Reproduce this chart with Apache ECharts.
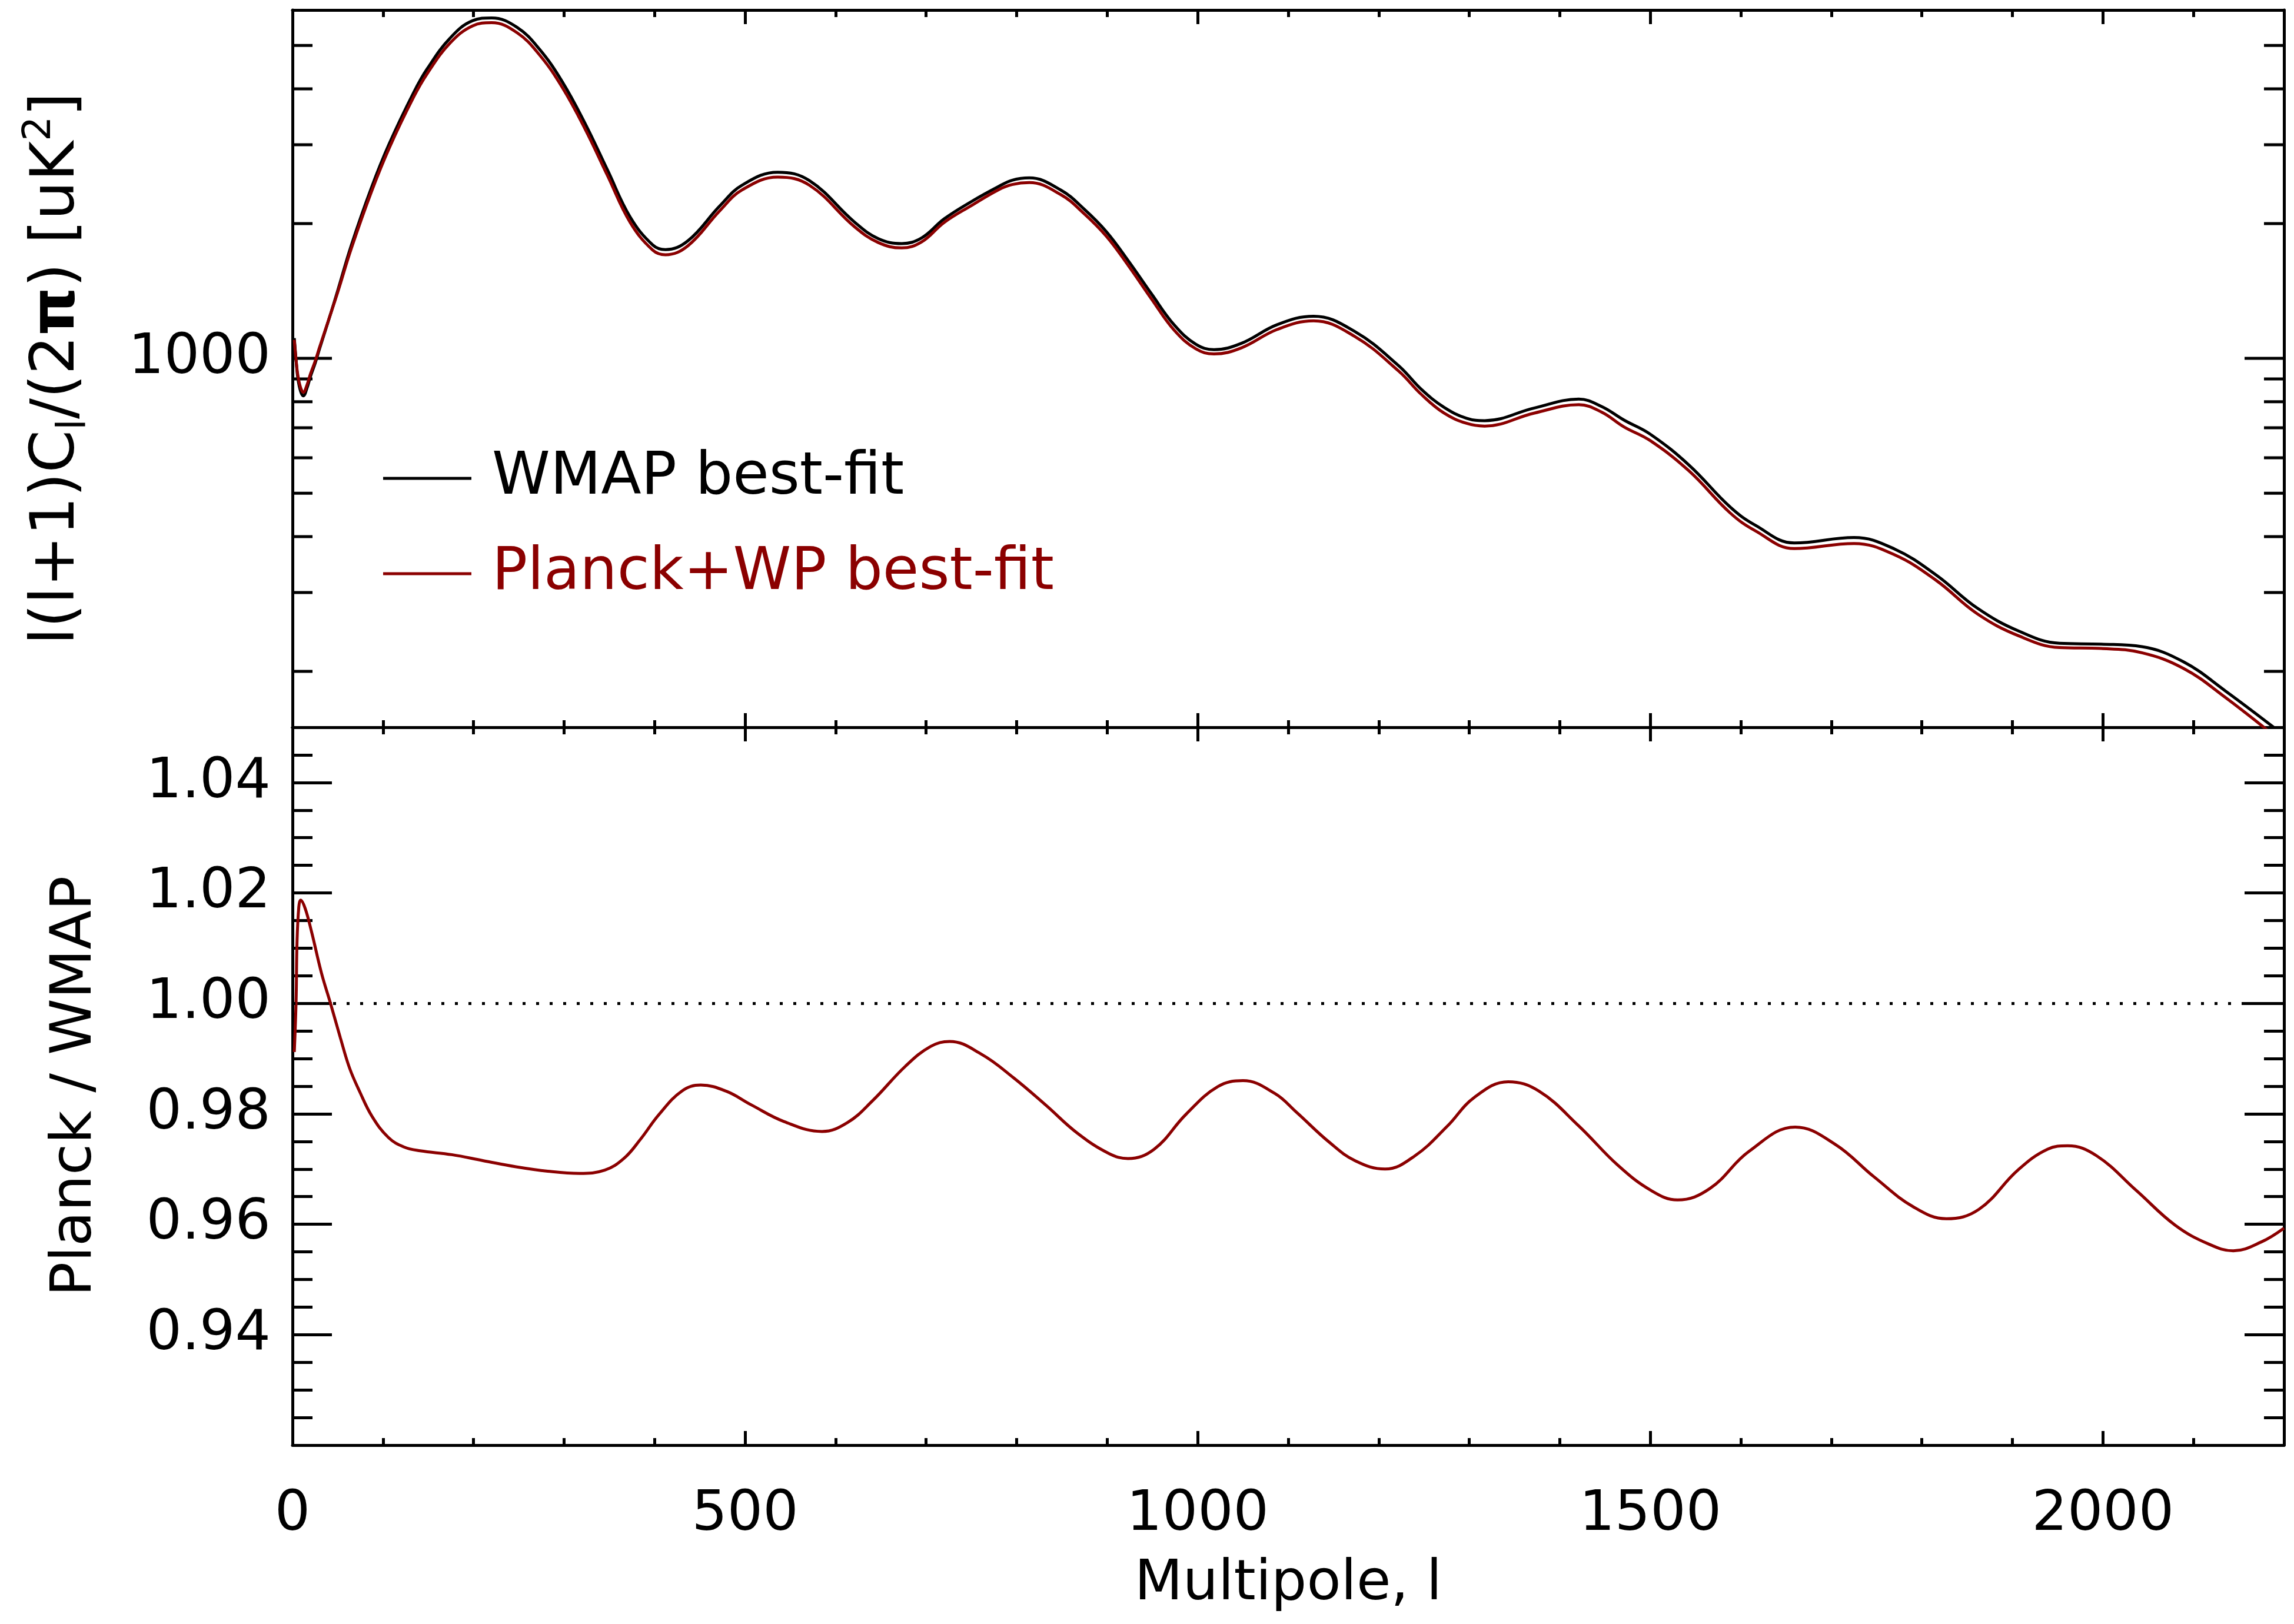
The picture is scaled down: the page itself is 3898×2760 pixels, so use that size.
<!DOCTYPE html>
<html>
<head>
<meta charset="utf-8">
<title>Planck+WP vs WMAP best-fit spectra</title>
<script src="https://cdn.jsdelivr.net/npm/echarts@6/dist/echarts.min.js"></script>
<style>
html, body { margin: 0; padding: 0; background: #ffffff; }
#chart { width: 3898px; height: 2760px; }
</style>
</head>
<body>
<div id="chart"></div>
<script>
// top panel: l(l+1)C_l/(2pi)
var ellTop = [2, 4, 6, 9, 12, 16, 20, 25, 30, 40,
  50, 65, 87, 107, 134, 149, 174, 199, 220, 248,
  273, 298, 323, 348, 373, 398, 412, 437, 472, 497,
  536, 571, 621, 647, 673, 695, 720, 750, 780, 795, 814,
  849, 874, 899, 924, 949, 974, 998, 1018, 1048, 1088,
  1128, 1173, 1222, 1247, 1272, 1297, 1317, 1372, 1421, 1446, 1471,
  1500, 1543, 1588, 1616, 1659, 1725, 1770, 1816, 1861, 1907,
  1952, 1998, 2043, 2089, 2135, 2200];
var wmapDl = [1110, 990, 901, 844, 825, 858, 913, 975, 1052, 1219,
  1418, 1790, 2400, 3020, 3930, 4440, 5190, 5680, 5760, 5490,
  4900, 4150, 3355, 2635, 2070, 1792, 1750, 1832, 2190, 2440,
  2605, 2495, 2015, 1852, 1805, 1858, 2050, 2240, 2420, 2500, 2530,
  2375, 2160, 1920, 1645, 1393, 1188, 1075, 1046, 1080, 1190,
  1242, 1150, 963, 853, 778, 735, 726, 775, 811, 781, 728,
  677, 577, 466, 424, 387, 398, 375, 328, 277, 246,
  231, 230, 227, 210, 181, 144];
var planckDl = [1100, 990, 915, 860, 840, 872, 925, 985, 1060, 1220,
  1406, 1760, 2350, 2954, 3840, 4330, 5060, 5530, 5620, 5340,
  4760, 4030, 3260, 2560, 2013, 1745, 1704, 1786, 2137, 2381,
  2540, 2437, 1967, 1815, 1765, 1820, 2013, 2195, 2381, 2445, 2470,
  2320, 2110, 1875, 1605, 1357, 1156, 1050, 1023, 1055, 1161,
  1213, 1121, 937, 831, 755, 716, 706, 755, 788, 759, 703,
  655, 560, 452, 412, 376, 386, 364, 319, 269, 240,
  226, 225, 220, 203, 175, 138];

// bottom panel: Planck / WMAP
var ellRatio = [2, 4, 5, 7, 9, 14, 21, 32, 42, 53,
  63, 74, 88, 106, 123, 141, 176, 211, 247, 282,
  317, 345, 366, 384, 405, 430, 451, 479, 507, 543,
  585, 613, 641, 677, 705, 726, 761, 796, 832, 867,
  902, 923, 952, 987, 1022, 1050, 1085, 1109, 1145, 1174,
  1207, 1240, 1276, 1305, 1343, 1377, 1421, 1464, 1501, 1530,
  1566, 1609, 1660, 1704, 1747, 1791, 1827, 1863, 1906, 1939,
  1961, 1993, 2037, 2080, 2117, 2144, 2175, 2200];
var ratioVals = [0.9912, 1.0005, 1.0110, 1.0175, 1.0187, 1.0172, 1.0130, 1.0055, 1.0000, 0.9937,
  0.9883, 0.9841, 0.9795, 0.9757, 0.9740, 0.9733, 0.9726, 0.9715, 0.9704, 0.9696,
  0.9692, 0.9698, 0.9719, 0.9753, 0.9799, 0.9841, 0.9852, 0.9841, 0.9816, 0.9786,
  0.9768, 0.9784, 0.9824, 0.9886, 0.9922, 0.9931, 0.9908, 0.9866, 0.9816, 0.9765,
  0.9728, 0.9719, 0.9736, 0.9799, 0.9849, 0.9860, 0.9837, 0.9803, 0.9749, 0.9715,
  0.9700, 0.9724, 0.9778, 0.9829, 0.9858, 0.9841, 0.9778, 0.9707, 0.9661, 0.9644,
  0.9665, 0.9732, 0.9776, 0.9745, 0.9686, 0.9631, 0.9610, 0.9627, 0.9698, 0.9736,
  0.9742, 0.9724, 0.9661, 0.9598, 0.9564, 0.9552, 0.9568, 0.9593];

// tick labels / tick values
var xTickLabels = [0, 500, 1000, 1500, 2000];
var dlTickLabels = [1000];
var dlMinorTicks = [200, 300, 400, 500, 600, 700, 800, 900, 2000, 3000, 4000, 5000];
var ratioTickLabels = [0.94, 0.96, 0.98, 1.00, 1.02, 1.04];

var xMin = 0, xMax = 2200;
var dlMin = 150, dlMax = 6000;
var FONT = 'DejaVu Sans';
var RED = '#8b0000';
var LW = 5;

function zip(a, b) {
  return a.map(function (v, i) { return [v, b[i]]; });
}

var chart = echarts.init(document.getElementById('chart'), null, { renderer: 'canvas' });

function xAxisFor(grid, pos, withLabels) {
  var ax = {
    gridIndex: grid, type: 'value', position: pos,
    min: xMin, max: xMax, interval: 500,
    axisLine: { show: true, onZero: false, lineStyle: { color: '#000', width: LW } },
    axisTick: { show: true, inside: true, length: 24, lineStyle: { color: '#000', width: LW } },
    minorTick: { show: true, splitNumber: 5, length: 12, lineStyle: { color: '#000', width: LW } },
    splitLine: { show: false },
    axisLabel: { show: false }
  };
  if (withLabels) {
    ax.axisLabel = {
      show: true, margin: 72, fontSize: 95, fontFamily: FONT, color: '#000',
      formatter: function (v) { return xTickLabels.indexOf(v) >= 0 ? String(v) : ''; }
    };
    ax.name = 'Multipole, l';
    ax.nameLocation = 'middle';
    ax.nameGap = 190;
    ax.nameTextStyle = { fontSize: 95, fontFamily: FONT, color: '#000' };
  }
  return ax;
}

function ratioAxis(pos, withLabels) {
  var ax = {
    gridIndex: 1, type: 'value', position: pos,
    min: 0.92, max: 1.05, interval: 0.02,
    axisLine: { show: true, onZero: false, lineStyle: { color: '#000', width: LW } },
    axisTick: { show: true, inside: true, length: 67, lineStyle: { color: '#000', width: LW } },
    minorTick: { show: true, splitNumber: 4, length: 34, lineStyle: { color: '#000', width: LW } },
    splitLine: { show: false },
    axisLabel: { show: false }
  };
  if (withLabels) {
    ax.axisLabel = {
      show: true, margin: 37, fontSize: 95, fontFamily: FONT, color: '#000',
      formatter: function (v) {
        return ratioTickLabels.some(function (t) { return Math.abs(t - v) < 1e-6; }) ? v.toFixed(2) : '';
      }
    };
    ax.name = '{n|Planck / WMAP}';
    ax.nameLocation = 'middle';
    ax.nameGap = 308;
    ax.nameTextStyle = {
      fontSize: 95, fontFamily: FONT, color: '#000',
      rich: { n: { fontSize: 97, lineHeight: 120, fontFamily: FONT, color: '#000' } }
    };
  }
  return ax;
}

function dlAxis(pos, withLabels) {
  var ax = {
    gridIndex: 0, type: 'log', logBase: 10, position: pos,
    min: dlMin, max: dlMax,
    axisLine: { show: true, onZero: false, lineStyle: { color: '#000', width: LW } },
    axisTick: { show: false },
    minorTick: { show: false },
    splitLine: { show: false },
    axisLabel: { show: false }
  };
  if (withLabels) {
    ax.axisLabel = {
      show: true, margin: 37, fontSize: 95, fontFamily: FONT, color: '#000',
      formatter: function (v) {
        for (var i = 0; i < dlTickLabels.length; i++) {
          if (Math.abs(dlTickLabels[i] - v) < 1e-3 * dlTickLabels[i]) return String(dlTickLabels[i]);
        }
        return '';
      }
    };
    ax.name = '{n|l(l+1)C}{s|l}{n|/(2}{p|\u03c0}{n|) [uK}{u|2}{n|]}';
    ax.nameLocation = 'middle';
    ax.nameGap = 336;
    ax.nameTextStyle = {
      fontSize: 104, fontFamily: FONT, color: '#000',
      rich: {
        n: { fontSize: 104, lineHeight: 126, fontFamily: FONT, color: '#000' },
        p: { fontSize: 104, lineHeight: 126, fontFamily: FONT, fontWeight: 'bold', color: '#000' },
        s: { fontSize: 68, lineHeight: 66, fontFamily: FONT, verticalAlign: 'bottom', color: '#000' },
        u: { fontSize: 66, lineHeight: 64, fontFamily: FONT, verticalAlign: 'top', color: '#000' }
      }
    };
  }
  return ax;
}

// ticks of the log axis, drawn on both edges through the axis scale
function logTicks(len) {
  return function (params, api) {
    var v = api.value(1);
    var a = api.coord([xMin, v]);
    var b = api.coord([xMax, v]);
    var st = { stroke: '#000', lineWidth: LW };
    return {
      type: 'group',
      children: [
        { type: 'line', shape: { x1: a[0], y1: a[1], x2: a[0] + len, y2: a[1] }, style: st },
        { type: 'line', shape: { x1: b[0] - len, y1: b[1], x2: b[0], y2: b[1] }, style: st }
      ]
    };
  };
}

var option = {
  animation: false,
  backgroundColor: '#ffffff',
  textStyle: { fontFamily: FONT },
  grid: [
    { left: 497, right: 17, top: 17, height: 1219 },
    { left: 497, right: 17, top: 1236, height: 1220 }
  ],
  legend: {
    show: true,
    orient: 'vertical',
    left: 646, top: 758,
    itemWidth: 150, itemHeight: 5, itemGap: 62,
    selectedMode: false,
    textStyle: { fontSize: 100, fontFamily: FONT, lineHeight: 100, padding: [0, 0, 0, 30] },
    data: [
      { name: 'WMAP best-fit', icon: 'rect', textStyle: { color: '#000' } },
      { name: 'Planck+WP best-fit', icon: 'rect', textStyle: { color: RED } }
    ]
  },
  xAxis: [
    xAxisFor(0, 'bottom', false),
    xAxisFor(0, 'top', false),
    xAxisFor(1, 'bottom', true),
    xAxisFor(1, 'top', false)
  ],
  yAxis: [
    dlAxis('left', true),
    dlAxis('right', false),
    ratioAxis('left', true),
    ratioAxis('right', false)
  ],
  series: [
    {
      name: 'WMAP best-fit', type: 'line', xAxisIndex: 0, yAxisIndex: 0,
      data: zip(ellTop, wmapDl), smooth: 0.4, symbol: 'none', z: 3,
      itemStyle: { color: '#000' },
      lineStyle: { color: '#000', width: 5 }
    },
    {
      name: 'Planck+WP best-fit', type: 'line', xAxisIndex: 0, yAxisIndex: 0,
      data: zip(ellTop, planckDl), smooth: 0.4, symbol: 'none', z: 4,
      itemStyle: { color: RED },
      lineStyle: { color: RED, width: 5 }
    },
    {
      type: 'custom', xAxisIndex: 0, yAxisIndex: 0, silent: true,
      data: dlMinorTicks.map(function (v) { return [xMin, v]; }),
      renderItem: logTicks(34)
    },
    {
      type: 'custom', xAxisIndex: 0, yAxisIndex: 0, silent: true,
      data: dlTickLabels.map(function (v) { return [xMin, v]; }),
      renderItem: logTicks(67)
    },
    {
      name: 'ratio', type: 'line', xAxisIndex: 2, yAxisIndex: 2,
      data: zip(ellRatio, ratioVals), smooth: 0.4, symbol: 'none', z: 4,
      itemStyle: { color: RED },
      lineStyle: { color: RED, width: 5 },
      markLine: {
        silent: true, symbol: 'none', animation: false,
        label: { show: false },
        lineStyle: { color: '#000', width: 5, type: [5, 18] },
        emphasis: { disabled: true },
        data: [{ yAxis: 1 }]
      }
    }
  ]
};

chart.setOption(option);
</script>
</body>
</html>
